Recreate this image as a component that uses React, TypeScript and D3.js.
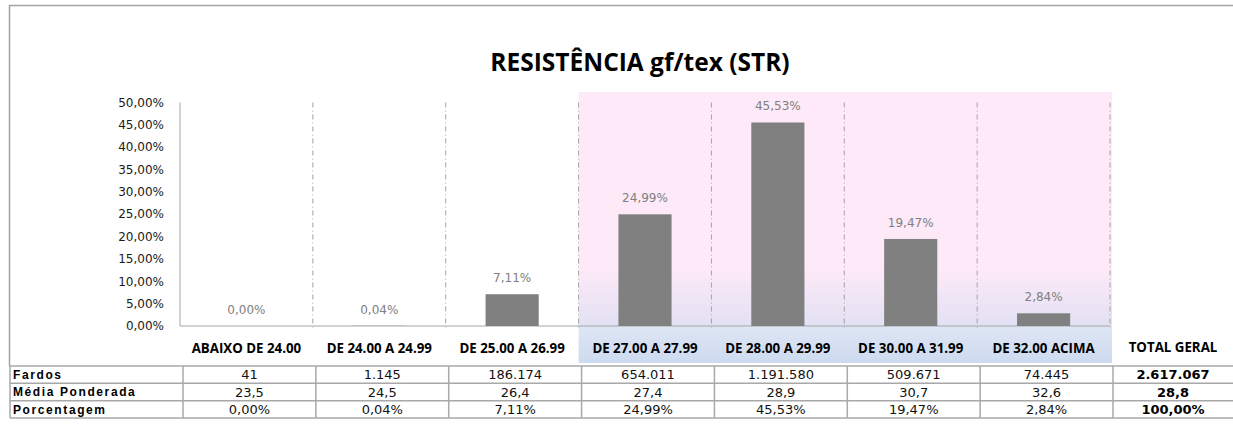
import React, { useEffect, useRef } from "react";
import * as d3 from "d3";

const categories = [
  "ABAIXO DE 24.00",
  "DE 24.00 A 24.99",
  "DE 25.00 A 26.99",
  "DE 27.00 A 27.99",
  "DE 28.00 A 29.99",
  "DE 30.00 A 31.99",
  "DE 32.00 ACIMA",
];
const percentages = [0.0, 0.04, 7.11, 24.99, 45.53, 19.47, 2.84];
const fardos = [41, 1145, 186174, 654011, 1191580, 509671, 74445];
const mediaPonderada = [23.5, 24.5, 26.4, 27.4, 28.9, 30.7, 32.6];
const mediaGeral = 28.8;
const rowLabels = ["Fardos", "Média Ponderada", "Porcentagem"];
const yTicks = [0, 5, 10, 15, 20, 25, 30, 35, 40, 45, 50];
const highlighted = ["DE 27.00 A 27.99", "DE 28.00 A 29.99", "DE 30.00 A 31.99", "DE 32.00 ACIMA"];

const ptBR = d3.formatLocale({ decimal: ",", thousands: ".", grouping: [3], currency: ["R$", ""] });
const fmtInt = ptBR.format(",d");
const fmtPct = (v: number) => ptBR.format(".2f")(v) + "%";
const fmtOne = ptBR.format(".1f");

const W = 1233;
const H = 426;

const Chart = () => {
  const ref = useRef<SVGSVGElement>(null);

  useEffect(() => {
    document.body.style.margin = "0";
    const svg = d3.select(ref.current);
    svg.selectAll("*").remove();

    const x = d3.scaleBand().domain(categories).range([180, 1110]).paddingInner(0.6).paddingOuter(0.3);
    const y = d3.scaleLinear().domain([0, 50]).range([326, 102.5]);
    const step = x.step();
    const left = (c: string) => x(c)! - x.paddingOuter() * step;
    const center = (c: string) => x(c)! + x.bandwidth() / 2;

    const defs = svg.append("defs");
    const pg = defs.append("linearGradient").attr("id", "pinkGrad").attr("x1", 0).attr("y1", 0).attr("x2", 0).attr("y2", 1);
    pg.append("stop").attr("offset", "0%").attr("stop-color", "#fde9f8");
    pg.append("stop").attr("offset", "76%").attr("stop-color", "#fde9f8");
    pg.append("stop").attr("offset", "100%").attr("stop-color", "#e2e1f3");
    const bg = defs.append("linearGradient").attr("id", "blueGrad").attr("x1", 0).attr("y1", 0).attr("x2", 0).attr("y2", 1);
    bg.append("stop").attr("offset", "0%").attr("stop-color", "#dfe6f5");
    bg.append("stop").attr("offset", "100%").attr("stop-color", "#cddaef");

    // highlighted area
    const hx0 = left(highlighted[0]);
    const hx1 = left(highlighted[highlighted.length - 1]) + step + 2;
    svg.append("rect").attr("x", hx0).attr("y", 92).attr("width", hx1 - hx0).attr("height", y(0) - 92).attr("fill", "url(#pinkGrad)");
    svg.append("rect").attr("x", hx0).attr("y", y(0)).attr("width", hx1 - hx0).attr("height", 363 - y(0)).attr("fill", "url(#blueGrad)");

    // frame
    svg.append("path").attr("d", `M9.5,366 V5.5 H${W}`).attr("fill", "none").attr("stroke", "#a3a3a3").attr("stroke-width", 1.5);

    // title
    svg.append("text").attr("x", 640).attr("y", 71).attr("text-anchor", "middle")
      .style("font-family", "'Open Sans', sans-serif").style("font-weight", 700).style("font-size", "24.5px")
      .attr("fill", "#000").text("RESISTÊNCIA gf/tex (STR)");

    // vertical dash-dot separators
    svg.selectAll(".sep").data(categories).enter().append("line")
      .attr("x1", (c) => left(c) + step).attr("x2", (c) => left(c) + step)
      .attr("y1", y(50)).attr("y2", y(0) + 2)
      .attr("stroke", "#a3a3a3").attr("stroke-dasharray", "5,3,1,3");

    // axes
    svg.append("line").attr("x1", 180).attr("x2", 180).attr("y1", y(50)).attr("y2", y(0)).attr("stroke", "#a6a6a6");
    svg.append("line").attr("x1", 180).attr("x2", 1110).attr("y1", y(0)).attr("y2", y(0)).attr("stroke", "#a6a6a6");

    svg.selectAll(".ytick").data(yTicks).enter().append("text")
      .attr("x", 164).attr("y", (d) => y(d)).attr("dy", "0.35em").attr("text-anchor", "end")
      .style("font-family", "'DejaVu Sans', sans-serif").style("font-size", "12px")
      .attr("fill", "#1a1a1a").text((d) => fmtPct(d));

    // bars
    svg.selectAll(".bar").data(categories).enter().append("rect")
      .attr("x", (c) => x(c)!).attr("width", x.bandwidth())
      .attr("y", (c, i) => y(percentages[i])).attr("height", (c, i) => y(0) - y(percentages[i]))
      .attr("fill", "#808080");

    svg.selectAll(".lbl").data(categories).enter().append("text")
      .attr("x", (c) => center(c)).attr("y", (c, i) => y(percentages[i]) - 12).attr("text-anchor", "middle")
      .style("font-family", "'DejaVu Sans', sans-serif").style("font-size", "12px")
      .attr("fill", "#808080").text((c, i) => fmtPct(percentages[i]));

    // category labels
    const catFont = (s: d3.Selection<SVGTextElement, any, any, any>) =>
      s.style("font-family", "'Open Sans', sans-serif").style("font-weight", 700).style("font-size", "13.3px").attr("fill", "#000");
    svg.selectAll(".cat").data(categories).enter().append("text")
      .attr("x", (c) => center(c)).attr("y", 353).attr("text-anchor", "middle")
      .call(catFont as any).text((c) => c);
    svg.append("text").attr("x", 1173).attr("y", 352).attr("text-anchor", "middle").call(catFont as any).text("TOTAL GERAL");

    // table
    const tableTop = 366;
    const tableBottom = 418;
    const rows = d3.scaleBand().domain(rowLabels).range([tableTop, tableBottom]);
    const colEdges = [10, ...categories.map((c) => left(c) + 3), 1113];
    const grid = "#a8a8a8";
    [...rows.domain().map((r) => rows(r)!), tableBottom].forEach((ry) => {
      svg.append("line").attr("x1", 10).attr("x2", W).attr("y1", ry).attr("y2", ry).attr("stroke", grid).attr("stroke-width", 1.5);
    });
    colEdges.forEach((cx) => {
      svg.append("line").attr("x1", cx).attr("x2", cx).attr("y1", tableTop).attr("y2", tableBottom).attr("stroke", grid).attr("stroke-width", 1.5);
    });

    const rowMid = (r: string) => rows(r)! + rows.bandwidth() / 2;
    svg.selectAll(".rowlbl").data(rowLabels).enter().append("text")
      .attr("x", 13).attr("y", (r) => rowMid(r)).attr("dy", "0.35em")
      .style("font-family", "'Liberation Sans', Arial, sans-serif").style("font-weight", 700).style("font-size", "12px")
      .style("letter-spacing", "1.6px").attr("fill", "#000").text((r) => r);

    const rowValues = [
      fardos.map((v) => fmtInt(v)),
      mediaPonderada.map((v) => fmtOne(v)),
      percentages.map((v) => fmtPct(v)),
    ];
    const totals = [fmtInt(d3.sum(fardos)), fmtOne(mediaGeral), fmtPct(100)];

    rowLabels.forEach((r, ri) => {
      svg.selectAll(`.val${ri}`).data(categories).enter().append("text")
        .attr("x", (c) => center(c) + 3).attr("y", rowMid(r)).attr("dy", "0.37em").attr("text-anchor", "middle")
        .style("font-family", "'DejaVu Sans', sans-serif").style("font-size", "13px")
        .attr("fill", "#111").text((c, i) => rowValues[ri][i]);
      svg.append("text").attr("x", 1173).attr("y", rowMid(r)).attr("dy", "0.37em").attr("text-anchor", "middle")
        .style("font-family", "'DejaVu Sans', sans-serif").style("font-size", "13px").style("font-weight", 700)
        .attr("fill", "#000").text(totals[ri]);
    });
  }, []);

  return <svg ref={ref} width={W} height={H} style={{ display: "block", background: "#fff" }} />;
};

export default function App() {
  return <Chart />;
}
